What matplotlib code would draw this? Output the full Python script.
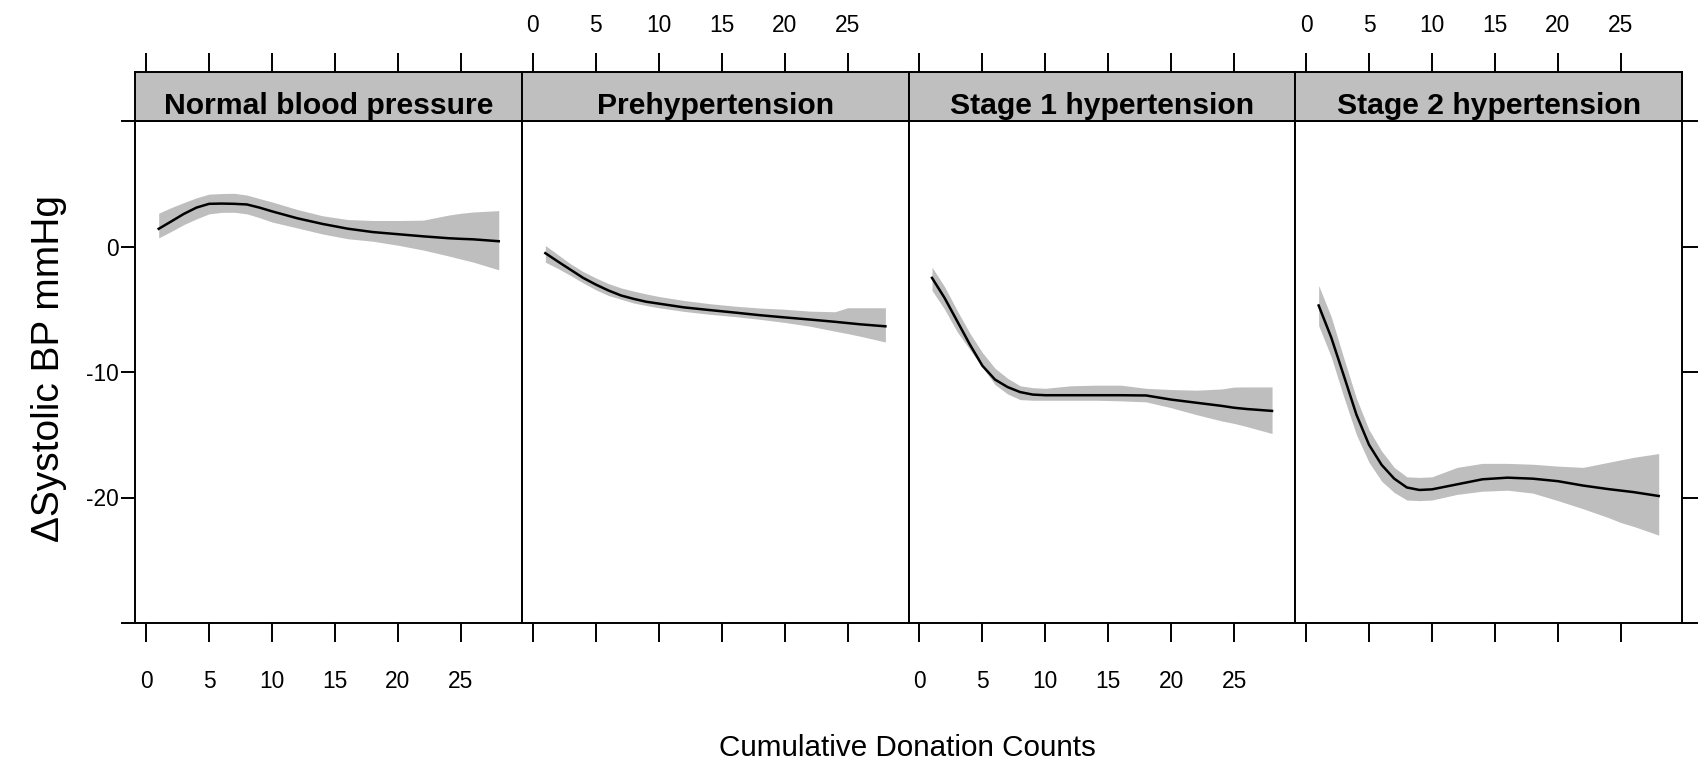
import matplotlib
matplotlib.use("Agg")
import matplotlib.pyplot as plt
from matplotlib import font_manager as fm

# ---- data -------------------------------------------------------------
panel_titles = ["Normal blood pressure", "Prehypertension",
                "Stage 1 hypertension", "Stage 2 hypertension"]

donations = [1, 2, 3, 4, 5, 6, 7, 8, 9, 10, 12, 14, 16, 18, 20, 22, 24, 25, 26, 28]

normal_fit = [1.41, 2.0, 2.6, 3.1, 3.4, 3.42, 3.4, 3.35, 3.1, 2.8,
              2.25, 1.8, 1.42, 1.15, 0.98, 0.81, 0.66, 0.61, 0.57, 0.42]
normal_hi = [2.65, 3.1, 3.5, 3.88, 4.17, 4.22, 4.24, 4.1, 3.82, 3.55,
             2.95, 2.45, 2.15, 2.07, 2.07, 2.1, 2.5, 2.65, 2.75, 2.86]
normal_lo = [0.69, 1.2, 1.75, 2.2, 2.6, 2.72, 2.73, 2.6, 2.3, 1.95,
             1.48, 1.0, 0.62, 0.42, 0.1, -0.28, -0.75, -1.0, -1.25, -1.86]

prehyp_fit = [-0.53, -1.2, -1.85, -2.5, -3.03, -3.5, -3.9, -4.17, -4.4, -4.55,
              -4.85, -5.06, -5.26, -5.47, -5.65, -5.82, -6.0, -6.1, -6.2, -6.36]
prehyp_hi = [0.08, -0.65, -1.38, -2.0, -2.5, -2.95, -3.3, -3.55, -3.78, -3.98,
             -4.3, -4.55, -4.75, -4.9, -5.0, -5.15, -5.2, -4.88, -4.88, -4.88]
prehyp_lo = [-1.25, -1.75, -2.31, -2.9, -3.45, -3.9, -4.2, -4.5, -4.7, -4.88,
             -5.17, -5.4, -5.58, -5.8, -6.05, -6.35, -6.75, -6.94, -7.15, -7.61]

stage1_fit = [-2.5, -4.1, -5.95, -7.8, -9.5, -10.6, -11.2, -11.6, -11.8, -11.85,
              -11.85, -11.85, -11.85, -11.87, -12.2, -12.45, -12.7, -12.85, -12.95, -13.1]
stage1_hi = [-1.65, -3.2, -5.1, -6.9, -8.45, -9.7, -10.5, -11.1, -11.25, -11.3,
             -11.1, -11.05, -11.05, -11.3, -11.4, -11.45, -11.35, -11.2, -11.19, -11.19]
stage1_lo = [-3.5, -5.0, -6.8, -8.2, -9.6, -11.0, -11.75, -12.2, -12.25, -12.25,
             -12.25, -12.25, -12.3, -12.38, -12.85, -13.4, -13.9, -14.1, -14.35, -14.9]

stage2_fit = [-4.7, -7.25, -10.3, -13.4, -15.8, -17.4, -18.5, -19.2, -19.4, -19.35,
              -18.95, -18.55, -18.42, -18.5, -18.7, -19.05, -19.33, -19.45, -19.57, -19.88]
stage2_hi = [-3.1, -5.6, -8.9, -12.1, -14.6, -16.3, -17.6, -18.35, -18.4, -18.35,
             -17.6, -17.28, -17.28, -17.35, -17.5, -17.6, -17.2, -17.0, -16.8, -16.5]
stage2_lo = [-6.3, -8.8, -12.0, -15.0, -17.2, -18.7, -19.6, -20.2, -20.25, -20.2,
             -19.75, -19.5, -19.42, -19.65, -20.25, -20.9, -21.6, -22.0, -22.3, -23.0]

x_ticks = [0, 5, 10, 15, 20, 25]
y_ticks = [-30, -20, -10, 0, 10]
y_tick_labels = ["", "-20", "-10", "0", ""]

x_label = "Cumulative Donation Counts"
y_label = "\u0394Systolic BP mmHg"

# ---- fonts ------------------------------------------------------------
installed = {f.name for f in fm.fontManager.ttflist}
if "Liberation Sans Narrow" in installed:
    narrow, shrink = "Liberation Sans Narrow", 1.0
else:
    narrow, shrink = "Liberation Sans", 0.82
regular = "Liberation Sans" if "Liberation Sans" in installed else "DejaVu Sans"

tick_size = 20 * shrink
title_size = 26.5 * shrink
xlabel_size = 26 * shrink

# ---- figure layout (pixels) -------------------------------------------
W, H = 1698, 763
fig = plt.figure(figsize=(W / 100, H / 100), dpi=100)

panel_left0 = 135.4
panel_w = (1682.0 - panel_left0) / 4
panel_top, panel_bot = 121.0, 623.0
strip_top = 72.0

band_color = "#bebebe"
strip_color = "#bfbfbf"
frame_lw = 1.4
px = 72 / 100  # points per pixel

series = [(normal_fit, normal_lo, normal_hi),
          (prehyp_fit, prehyp_lo, prehyp_hi),
          (stage1_fit, stage1_lo, stage1_hi),
          (stage2_fit, stage2_lo, stage2_hi)]


def fig_rect(x0, y_top, w, y_bottom):
    return [x0 / W, 1 - y_bottom / H, w / W, (y_bottom - y_top) / H]


for i, (title, (fit, lo, hi)) in enumerate(zip(panel_titles, series)):
    x0 = panel_left0 + i * panel_w
    ax = fig.add_axes(fig_rect(x0, panel_top, panel_w, panel_bot))
    ax.fill_between(donations, lo, hi, color=band_color, lw=0)
    ax.plot(donations, fit, color="black", lw=1.8)
    ax.set_xlim(-0.85, 29.85)
    ax.set_ylim(-30, 10)

    for sp in ax.spines.values():
        sp.set_linewidth(frame_lw)

    # x ticks: bottom, labels alternate between panels
    ax.set_xticks(x_ticks)
    ax.set_xticklabels([str(v) for v in x_ticks])
    ax.tick_params(axis="x", which="both", direction="out", length=19 * px,
                   width=frame_lw, bottom=True, top=False,
                   labelbottom=(i % 2 == 0), labelsize=tick_size, pad=28 * px)

    # y ticks on the outer panels only
    ax.set_yticks(y_ticks)
    ax.set_yticklabels(y_tick_labels)
    ax.tick_params(axis="y", direction="out", width=frame_lw,
                   left=(i == 0), right=(i == 3),
                   labelleft=(i == 0), labelright=False,
                   length=(14 if i == 0 else 16) * px, labelsize=tick_size,
                   pad=3 * px)
    for lab in ax.get_xticklabels() + ax.get_yticklabels():
        lab.set_fontfamily(narrow)

    # strip with panel title; top ticks sit on the strip
    sax = fig.add_axes(fig_rect(x0, strip_top, panel_w, panel_top), sharex=ax)
    sax.set_facecolor(strip_color)
    for sp in sax.spines.values():
        sp.set_linewidth(frame_lw)
    sax.set_yticks([])
    sax.tick_params(axis="x", direction="out", length=19 * px, width=frame_lw,
                    top=True, bottom=False, labeltop=(i % 2 == 1),
                    labelbottom=False, labelsize=tick_size, pad=16 * px)
    for lab in sax.get_xticklabels():
        lab.set_fontfamily(narrow)
    sax.text(0.5, 0.15, title, transform=sax.transAxes, ha="center",
             va="baseline", fontsize=title_size, fontweight="bold",
             fontfamily=narrow)

fig.text(907.5 / W, 1 - 756 / H, x_label, ha="center", va="baseline",
         fontsize=xlabel_size, fontfamily=narrow)
fig.text(49 / W, 1 - 368 / H, y_label, ha="center", va="center",
         rotation=90, fontsize=28, fontfamily=regular)

fig.savefig("out.png", dpi=100, facecolor="white")
